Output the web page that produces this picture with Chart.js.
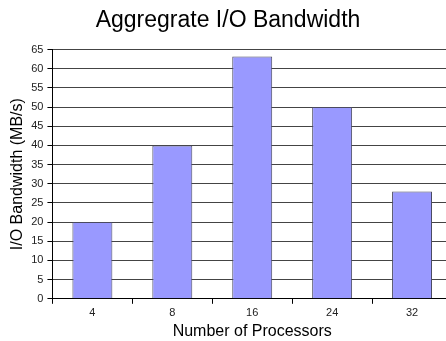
<!DOCTYPE html>
<html>
<head>
<meta charset="utf-8">
<script src="https://cdn.jsdelivr.net/npm/chart.js@4"></script>
<style>
html,body{margin:0;padding:0;background:#fff;overflow:hidden;width:446px;height:341px;}
#wrap{position:absolute;left:0;top:0;width:456px;height:341px;}
</style>
</head>
<body>
<div id="wrap"><canvas id="c" width="456" height="341"></canvas></div>
<script>
const categories = ["4", "8", "16", "24", "32"];
const bandwidth = [20, 40, 63.2, 50, 28];
const yTicks = [0, 5, 10, 15, 20, 25, 30, 35, 40, 45, 50, 55, 60, 65];

const FONT = "'Liberation Sans', Arial, sans-serif";
new Chart(document.getElementById('c'), {
  type: 'bar',
  data: {
    labels: categories,
    datasets: [{
      data: bandwidth,
      backgroundColor: '#9999ff',
      borderColor: '#4a4a60',
      borderWidth: 1,
      borderSkipped: 'bottom',
      barPercentage: 0.5,
      categoryPercentage: 1.0
    }]
  },
  options: {
    responsive: false,
    animation: false,
    layout: { padding: { left: 4, right: 4, top: 0, bottom: 1 } },
    plugins: {
      legend: { display: false },
      tooltip: { enabled: false },
      title: {
        display: true,
        text: 'Aggregrate I/O Bandwidth',
        color: '#000',
        font: { family: FONT, size: 23, weight: 'normal' },
        padding: { top: 7, bottom: 15 }
      }
    },
    scales: {
      x: {
        offset: true,
        grid: { display: true, drawOnChartArea: false, drawTicks: true, tickLength: 5, offset: true, color: '#000' },
        border: { display: true, color: '#000', width: 1 },
        ticks: { color: '#222', font: { family: FONT, size: 11 }, padding: 3 },
        title: { display: true, text: 'Number of Processors', color: '#000', font: { family: FONT, size: 16, lineHeight: 1.0 }, padding: { top: 1, bottom: 0 } }
      },
      y: {
        min: 0, max: 65,
        afterBuildTicks: (axis) => { axis.ticks = yTicks.map(v => ({ value: v })); },
        grid: { color: '#444', lineWidth: 1, drawTicks: true, tickLength: 5, tickColor: '#000' },
        border: { display: true, color: '#000', width: 1 },
        ticks: { color: '#222', font: { family: FONT, size: 11 }, padding: 4 },
        title: { display: true, text: 'I/O Bandwidth (MB/s)', color: '#000', font: { family: FONT, size: 16 }, padding: { top: 4, bottom: 0 } }
      }
    }
  }
});
</script>
</body>
</html>
